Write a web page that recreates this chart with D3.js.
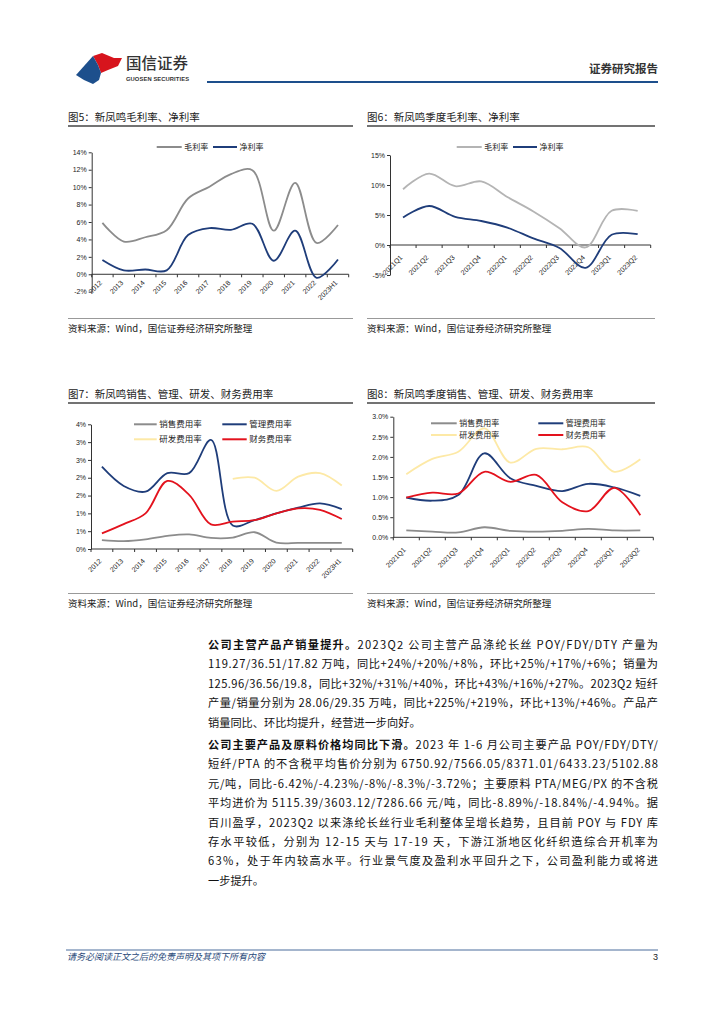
<!DOCTYPE html>
<html>
<head>
<meta charset="utf-8">
<script src="https://cdn.jsdelivr.net/npm/d3@7"></script>
<style>
body { margin: 0; background: #fff; }
svg text { font-family: "Liberation Sans", Arial, sans-serif; }
.cjk { font-family: "Noto Sans CJK SC", sans-serif; }
</style>
</head>
<body>
<svg id="page" width="724" height="1024"></svg>
<script>
// annual / quarterly categories
const years = ["2012","2013","2014","2015","2016","2017","2018","2019","2020","2021","2022","2023H1"]
const quarters = ["2021Q1","2021Q2","2021Q3","2021Q4","2022Q1","2022Q2","2022Q3","2022Q4","2023Q1","2023Q2"]

// fig 5 & 6, margins (%)
const grossAnnual = [5.9, 3.75, 4.25, 5.05, 8.7, 10.05, 11.5, 11.95, 5.0, 10.5, 3.6, 5.65]
const netAnnual = [1.65, 0.45, 0.55, 0.45, 4.5, 5.3, 5.1, 5.8, 1.55, 5.0, -0.4, 1.7]
const grossQuarter = [9.3, 11.9, 9.8, 10.6, 8.0, 5.6, 2.8, -0.4, 5.7, 5.7]
const netQuarter = [4.6, 6.5, 4.7, 4.0, 2.9, 1.1, -0.5, -3.8, 1.7, 1.8]

// fig 7 & 8, expense ratios (%)
const salesAnnual = [0.25, 0.22, 0.27, 0.37, 0.41, 0.31, 0.32, 0.47, 0.18, 0.17, 0.17, 0.17]
const adminAnnual = [2.31, 1.77, 1.61, 2.13, 2.13, 3.06, 0.66, 0.81, 1.0, 1.16, 1.28, 1.12]
const rdAnnual = [null, null, null, null, null, null, 1.97, 2.0, 1.63, 2.03, 2.13, 1.78]
const finAnnual = [0.44, 0.7, 1.0, 1.91, 1.52, 0.69, 0.77, 0.81, 1.0, 1.14, 1.1, 0.84]
const salesQuarter = [0.17, 0.14, 0.12, 0.25, 0.16, 0.14, 0.16, 0.21, 0.17, 0.17]
const adminQuarter = [0.99, 0.91, 1.05, 2.09, 1.47, 1.28, 1.15, 1.33, 1.24, 1.03]
const rdQuarter = [1.57, 1.95, 2.13, 2.71, 1.86, 2.2, 2.19, 2.24, 1.63, 1.94]
const finQuarter = [0.99, 1.11, 1.09, 1.63, 1.38, 1.55, 0.87, 0.65, 1.23, 0.55]

// tick values
const ticks5 = [-2, 0, 2, 4, 6, 8, 10, 12, 14]
const ticks6 = [-5, 0, 5, 10, 15]
const ticks7 = [0, 0.5, 1, 1.5, 2, 2.5, 3, 3.5]
const ticks8 = [0, 0.5, 1, 1.5, 2, 2.5, 3]

const GRAY = "#8c8c8c", LIGHT = "#b4b4b4", NAVY = "#1f3d7a", YELLOW = "#fde9a6", RED = "#e3121d"

const svg = d3.select("#page")
svg.append("rect").attr("width", 724).attr("height", 1024).attr("fill", "#fff")

function chart(o) {
    var g = svg.append("g")
    var x = d3.scaleBand().domain(o.cats).range([o.left, o.right])
    var y = d3.scaleLinear().domain(o.domain).range([o.bottom, o.top])

    // title + rules
    g.append("text").attr("class", "cjk").attr("x", o.frameL).attr("y", o.titleY)
        .attr("font-size", 10.5).attr("fill", "#222").text(o.title)
    g.append("line").attr("x1", o.frameL).attr("x2", o.frameR).attr("y1", o.titleY + 5).attr("y2", o.titleY + 5)
        .attr("stroke", "#444").attr("stroke-width", 1.3)
    g.append("line").attr("x1", o.frameL).attr("x2", o.frameR).attr("y1", o.srcY).attr("y2", o.srcY)
        .attr("stroke", "#999").attr("stroke-width", 1)
    g.append("text").attr("class", "cjk").attr("x", o.frameL).attr("y", o.srcY + 13)
        .attr("font-size", 9.5).attr("fill", "#222").text("资料来源：Wind，国信证券经济研究所整理")

    // y axis
    var ya = g.append("g").attr("transform", "translate(" + o.left + ",0)")
        .call(d3.axisLeft(y).tickValues(o.ticks).tickFormat(o.fmt).tickSize(3).tickSizeOuter(0).tickPadding(2))
    ya.select(".domain").attr("stroke", "#333")
    ya.selectAll(".tick line").attr("stroke", "#333")
    ya.selectAll(".tick text").attr("font-size", 7).attr("fill", "#222")
        .style("font-family", "'Liberation Sans', Arial, sans-serif")

    // x axis on zero line
    var x0 = y(0)
    g.append("line").attr("x1", o.left).attr("x2", o.right).attr("y1", x0).attr("y2", x0)
        .attr("stroke", "#333").attr("stroke-width", 1)
    var bounds = o.cats.map(function(c) { return x(c) }).concat([o.right])
    g.selectAll(".xt").data(bounds).enter().append("line")
        .attr("x1", function(d) { return d }).attr("x2", function(d) { return d })
        .attr("y1", x0).attr("y2", x0 + 3).attr("stroke", "#333")
    g.selectAll(".xl").data(o.cats).enter().append("text")
        .attr("transform", function(d) { return "translate(" + (x(d) + x.bandwidth() / 2) + "," + (x0 + o.labOff) + ") rotate(-45)" })
        .attr("text-anchor", "end").attr("font-size", 7).attr("fill", "#222").text(function(d) { return d })

    // lines
    o.series.forEach(function(s) {
        var line = d3.line()
            .defined(function(d) { return d != null })
            .x(function(d, i) { return x(o.cats[i]) + x.bandwidth() / 2 })
            .y(function(d) { return y(d) })
            .curve(d3.curveCatmullRom.alpha(0.5))
        g.append("path").datum(s.values).attr("d", line)
            .attr("fill", "none").attr("stroke", s.color).attr("stroke-width", s.width || 1.8)
            .attr("stroke-linejoin", "round")
    })

    // legend
    o.legend.forEach(function(l) {
        g.append("line").attr("x1", l.x).attr("x2", l.x + l.len).attr("y1", l.y).attr("y2", l.y)
            .attr("stroke", l.color).attr("stroke-width", 2)
        g.append("text").attr("class", "cjk").attr("x", l.x + l.len + 2.5).attr("y", l.y + 3)
            .attr("font-size", l.size).attr("fill", "#222").text(l.text)
    })
}

chart({
    title: "图5：新凤鸣毛利率、净利率", frameL: 68, frameR: 353, titleY: 121, srcY: 318.5,
    cats: years, left: 91.7, right: 348.7, domain: [-2, 14], bottom: 291.7, top: 152.3,
    ticks: ticks5, fmt: function(d) { return d + "%" }, labOff: 9,
    series: [{ values: grossAnnual, color: GRAY }, { values: netAnnual, color: NAVY }],
    legend: [
        { x: 156.7, y: 147, len: 25, color: GRAY, text: "毛利率", size: 8 },
        { x: 213, y: 147, len: 24, color: NAVY, text: "净利率", size: 8 }
    ]
})

chart({
    title: "图6：新凤鸣季度毛利率、净利率", frameL: 367, frameR: 655, titleY: 121, srcY: 318.5,
    cats: quarters, left: 390, right: 650.7, domain: [-5, 15], bottom: 275, top: 155,
    ticks: ticks6, fmt: function(d) { return d + "%" }, labOff: 13,
    series: [{ values: grossQuarter, color: LIGHT }, { values: netQuarter, color: NAVY }],
    legend: [
        { x: 456.7, y: 147, len: 25, color: LIGHT, text: "毛利率", size: 8 },
        { x: 513, y: 147, len: 24, color: NAVY, text: "净利率", size: 8 }
    ]
})

chart({
    title: "图7：新凤鸣销售、管理、研发、财务费用率", frameL: 68, frameR: 353, titleY: 398, srcY: 593.5,
    cats: years, left: 91, right: 352.7, domain: [0, 3.5], bottom: 549, top: 424.3,
    ticks: ticks7, fmt: function(d) { return Math.round(d) + "%" }, labOff: 12.5,
    series: [
        { values: salesAnnual, color: GRAY },
        { values: adminAnnual, color: NAVY },
        { values: rdAnnual, color: YELLOW },
        { values: finAnnual, color: RED }
    ],
    legend: [
        { x: 134, y: 424.3, len: 22.7, color: GRAY, text: "销售费用率", size: 8.5 },
        { x: 222.3, y: 424.3, len: 24.4, color: NAVY, text: "管理费用率", size: 8.5 },
        { x: 134, y: 439.3, len: 22.7, color: YELLOW, text: "研发费用率", size: 8.5 },
        { x: 222.3, y: 439.3, len: 24.4, color: RED, text: "财务费用率", size: 8.5 }
    ]
})

chart({
    title: "图8：新凤鸣季度销售、管理、研发、财务费用率", frameL: 367, frameR: 655, titleY: 398, srcY: 593.5,
    cats: quarters, left: 393.3, right: 653.3, domain: [0, 3], bottom: 537.3, top: 416.7,
    ticks: ticks8, fmt: function(d) { return d.toFixed(1) + "%" }, labOff: 13,
    series: [
        { values: salesQuarter, color: GRAY },
        { values: adminQuarter, color: NAVY },
        { values: rdQuarter, color: YELLOW },
        { values: finQuarter, color: RED }
    ],
    legend: [
        { x: 431, y: 423.3, len: 25.7, color: GRAY, text: "销售费用率", size: 8 },
        { x: 538.3, y: 423.3, len: 25, color: NAVY, text: "管理费用率", size: 8 },
        { x: 431, y: 435, len: 25.7, color: YELLOW, text: "研发费用率", size: 8 },
        { x: 538.3, y: 435, len: 25, color: RED, text: "财务费用率", size: 8 }
    ]
})

// header
svg.append("path").attr("d", "M93,56 L102,53 L114,58 L122,58 L118,66 L108,70 L101,73 L98,65 Z").attr("fill", "#d7141d")
svg.append("path").attr("d", "M76,75 L93,56 L98,65 L101,73 L99,80 L93,84 L84,80 Z").attr("fill", "#1d4f8c")
svg.append("text").attr("class", "cjk").attr("x", 126).attr("y", 69).attr("font-size", 15.5)
    .attr("font-weight", 500).attr("fill", "#333").text("国信证券")
svg.append("text").attr("x", 126).attr("y", 80.5).attr("font-size", 5.8).attr("font-weight", 700)
    .attr("fill", "#333").attr("textLength", 63).text("GUOSEN SECURITIES")
svg.append("line").attr("x1", 207).attr("x2", 658).attr("y1", 82).attr("y2", 82)
    .attr("stroke", "#1d4f8c").attr("stroke-width", 2)
svg.append("text").attr("class", "cjk").attr("x", 658).attr("y", 73).attr("text-anchor", "end")
    .attr("font-size", 11.5).attr("font-weight", 700).attr("fill", "#333").text("证券研究报告")

// body text
const para1 = [
    ["公司主营产品产销量提升。", "2023Q2 公司主营产品涤纶长丝 POY/FDY/DTY 产量为"],
    ["", "119.27/36.51/17.82 万吨，同比+24%/+20%/+8%，环比+25%/+17%/+6%；销量为"],
    ["", "125.96/36.56/19.8，同比+32%/+31%/+40%，环比+43%/+16%/+27%。2023Q2 短纤"],
    ["", "产量/销量分别为 28.06/29.35 万吨，同比+225%/+219%，环比+13%/+46%。产品产"],
    ["", "销量同比、环比均提升，经营进一步向好。"]
]
const para2 = [
    ["公司主要产品及原料价格均同比下滑。", "2023 年 1-6 月公司主要产品 POY/FDY/DTY/"],
    ["", "短纤/PTA 的不含税平均售价分别为 6750.92/7566.05/8371.01/6433.23/5102.88"],
    ["", "元/吨，同比-6.42%/-4.23%/-8%/-8.3%/-3.72%；主要原料 PTA/MEG/PX 的不含税"],
    ["", "平均进价为 5115.39/3603.12/7286.66 元/吨，同比-8.89%/-18.84%/-4.94%。据"],
    ["", "百川盈孚，2023Q2 以来涤纶长丝行业毛利整体呈增长趋势，且目前 POY 与 FDY 库"],
    ["", "存水平较低，分别为 12-15 天与 17-19 天，下游江浙地区化纤织造综合开机率为"],
    ["", "63%，处于年内较高水平。行业景气度及盈利水平回升之下，公司盈利能力或将进"],
    ["", "一步提升。"]
]

function para(lines, top) {
    lines.forEach(function(l, i) {
        var t = svg.append("text").attr("class", "cjk").attr("x", 208).attr("y", top + i * 19.4 + 4)
            .attr("font-size", 11.2).attr("fill", "#111")
        if (i < lines.length - 1) t.attr("textLength", 450).attr("lengthAdjust", "spacing")
        if (l[0]) t.append("tspan").attr("font-weight", 700).text(l[0])
        t.append("tspan").text(l[1])
    })
}
para(para1, 645)
para(para2, 745)

// footer
svg.append("line").attr("x1", 66).attr("x2", 658).attr("y1", 950).attr("y2", 950)
    .attr("stroke", "#4a6d9c").attr("stroke-width", 1)
svg.append("text").attr("class", "cjk").attr("x", 67).attr("y", 960).attr("font-size", 9)
    .attr("font-style", "italic").attr("fill", "#2b4a7a").text("请务必阅读正文之后的免责声明及其项下所有内容")
svg.append("text").attr("x", 658).attr("y", 960).attr("text-anchor", "end").attr("font-size", 9)
    .attr("fill", "#222").text("3")
</script>
</body>
</html>
